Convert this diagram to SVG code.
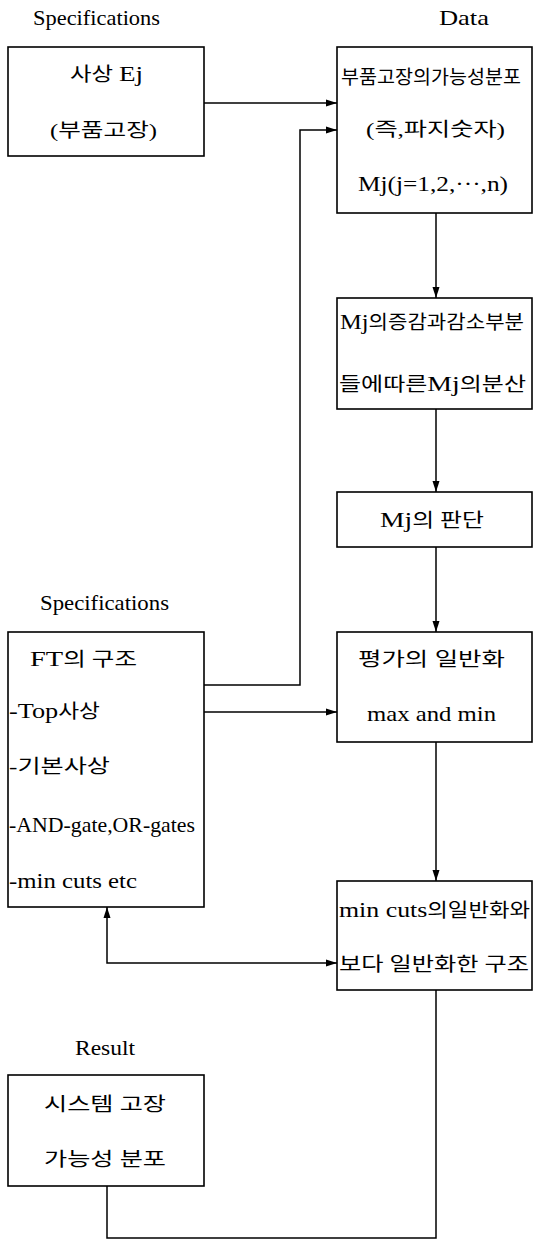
<svg xmlns="http://www.w3.org/2000/svg" width="534" height="1241" viewBox="0 0 534 1241">
<defs>
<style>
.bx{fill:#fff;stroke:#000;stroke-width:1.6}
.t{font-family:"Liberation Serif","Noto Sans CJK KR",serif;font-size:19px;fill:#000}
.l{font-size:22px}
.h{font-family:"Liberation Serif","Noto Sans CJK KR",serif;font-size:21px;fill:#000}
.c{fill:none;stroke:#000;stroke-width:1.5}
</style>
<marker id="ah" viewBox="0 0 11 10" refX="11" refY="5" markerWidth="11" markerHeight="10" markerUnits="userSpaceOnUse" orient="auto-start-reverse">
<path d="M0,1.5 L11,5 L0,8.5 Z" fill="#000"/>
</marker>
</defs>
<rect width="534" height="1241" fill="#fff"/>

<g id="labels">
<text class="h" x="33" y="25" textLength="127" lengthAdjust="spacingAndGlyphs">Specifications</text>
<text class="h" x="439" y="25" textLength="50" lengthAdjust="spacingAndGlyphs">Data</text>
<text class="h" x="40" y="610" textLength="129" lengthAdjust="spacingAndGlyphs">Specifications</text>
<text class="h" x="75" y="1055" textLength="60" lengthAdjust="spacingAndGlyphs">Result</text>
</g>

<g id="connectors">
<line class="c" x1="204" y1="103" x2="337" y2="103" marker-end="url(#ah)"/>
<polyline class="c" points="204,685 300,685 300,130 337,130" marker-end="url(#ah)"/>
<line class="c" x1="204" y1="712" x2="337" y2="712" marker-end="url(#ah)"/>
<line class="c" x1="436" y1="213" x2="436" y2="298" marker-end="url(#ah)"/>
<line class="c" x1="436" y1="409" x2="436" y2="492" marker-end="url(#ah)"/>
<line class="c" x1="436" y1="547" x2="436" y2="632" marker-end="url(#ah)"/>
<line class="c" x1="436" y1="742" x2="436" y2="881" marker-end="url(#ah)"/>
<polyline class="c" points="107,907 107,963 337,963" marker-start="url(#ah)" marker-end="url(#ah)"/>
<polyline class="c" points="107,1186 107,1238 436,1238 436,990"/>
</g>

<g id="event">
<rect class="bx" x="8" y="47" width="196" height="109"/>
<text class="t" x="70" y="81" textLength="73" lengthAdjust="spacingAndGlyphs">사상 <tspan class="l">Ej</tspan></text>
<text class="t" x="50" y="137" textLength="107" lengthAdjust="spacingAndGlyphs">(부품고장)</text>
</g>

<g id="data">
<rect class="bx" x="337" y="47" width="195" height="166"/>
<text class="t" x="341" y="84" textLength="180" lengthAdjust="spacingAndGlyphs">부품고장의가능성분포</text>
<text class="t" x="366" y="136" textLength="139" lengthAdjust="spacingAndGlyphs">(즉,파지숫자)</text>
<text class="t l" x="358" y="191" textLength="150" lengthAdjust="spacingAndGlyphs">Mj(j=1,2,···,n)</text>
</g>

<g id="variance">
<rect class="bx" x="337" y="298" width="195" height="111"/>
<text class="t" x="340" y="329" textLength="184" lengthAdjust="spacingAndGlyphs"><tspan class="l">Mj</tspan>의증감과감소부분</text>
<text class="t" x="339" y="391" textLength="187" lengthAdjust="spacingAndGlyphs">들에따른<tspan class="l">Mj</tspan>의분산</text>
</g>

<g id="judge">
<rect class="bx" x="337" y="492" width="195" height="55"/>
<text class="t" x="380" y="527" textLength="104" lengthAdjust="spacingAndGlyphs"><tspan class="l">Mj</tspan>의 판단</text>
</g>

<g id="ft">
<rect class="bx" x="8" y="632" width="196" height="275"/>
<text class="t" x="30" y="666" textLength="107" lengthAdjust="spacingAndGlyphs"><tspan class="l">FT</tspan>의 구조</text>
<text class="t" x="9" y="718" textLength="91" lengthAdjust="spacingAndGlyphs"><tspan class="l">-Top</tspan>사상</text>
<text class="t" x="9" y="773" textLength="101" lengthAdjust="spacingAndGlyphs">-기본사상</text>
<text class="t l" x="9" y="832" textLength="186" lengthAdjust="spacingAndGlyphs">-AND-gate,OR-gates</text>
<text class="t l" x="9" y="888" textLength="128" lengthAdjust="spacingAndGlyphs">-min cuts etc</text>
</g>

<g id="general">
<rect class="bx" x="337" y="632" width="195" height="110"/>
<text class="t" x="358" y="666" textLength="147" lengthAdjust="spacingAndGlyphs">평가의 일반화</text>
<text class="t l" x="367" y="721" textLength="129" lengthAdjust="spacingAndGlyphs">max and min</text>
</g>

<g id="mincuts">
<rect class="bx" x="337" y="881" width="195" height="109"/>
<text class="t" x="339" y="917" textLength="191" lengthAdjust="spacingAndGlyphs"><tspan class="l">min cuts</tspan>의일반화와</text>
<text class="t" x="339" y="971" textLength="190" lengthAdjust="spacingAndGlyphs">보다 일반화한 구조</text>
</g>

<g id="result">
<rect class="bx" x="8" y="1075" width="196" height="111"/>
<text class="t" x="44" y="1111" textLength="122" lengthAdjust="spacingAndGlyphs">시스템 고장</text>
<text class="t" x="44" y="1166" textLength="122" lengthAdjust="spacingAndGlyphs">가능성 분포</text>
</g>
</svg>
